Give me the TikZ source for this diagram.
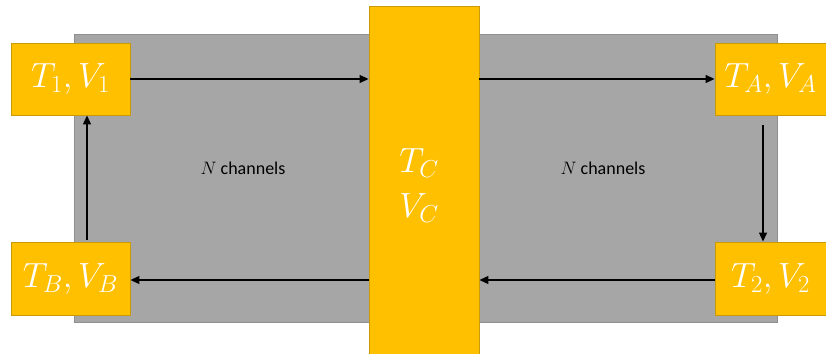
\RequirePackage{fix-cm}
\documentclass[tikz,border=0pt]{standalone}
\usepackage{fontspec}
\setmainfont{Carlito}
\usetikzlibrary{arrows.meta,calc}
\definecolor{gold}{HTML}{FFC000}
\definecolor{goldedge}{HTML}{C99A06}
\definecolor{chan}{HTML}{A6A6A6}
\definecolor{chanedge}{HTML}{8F8F8F}
\tikzset{
  valbox/.style={draw=goldedge, fill=gold, line width=0.9pt, inner sep=0pt,
    text=white, font=\fontsize{35}{38}\selectfont},
  flow/.style={-{Triangle[length=9pt,width=8pt]}, line width=1.2pt, black},
  lbl/.style={font=\fontsize{18}{21}\selectfont, text=black}
}
\begin{document}
\begin{tikzpicture}[x=1pt,y=1pt]
\useasboundingbox (0,0) rectangle (826,353);
\node[draw=chanedge, fill=chan, line width=0.9pt, minimum width=703pt, minimum height=288pt, inner sep=0pt] (grey) at (425.5,175) {};
\node[valbox, minimum width=110pt, minimum height=352pt] (bar) at (424,171) {};
\node[text=white, font=\fontsize{35}{38}\selectfont] (tc) at (419,190) {$T_C$};
\node[text=white, font=\fontsize{35}{38}\selectfont] (vc) at (419,145) {$V_C$};
\node[valbox, minimum width=119pt, minimum height=72pt] (t1) at (70.5,274) {$T_1,V_1$};
\node[valbox, minimum width=111pt, minimum height=72pt] (ta) at (770.5,274) {$T_A,V_A$};
\node[valbox, minimum width=119pt, minimum height=73pt] (tb) at (70.5,74.5) {$T_B,V_B$};
\node[valbox, minimum width=111pt, minimum height=73pt] (t2) at (770.5,74.5) {$T_2,V_2$};
\node[lbl] (n1) at (243,185) {$N$ channels};
\node[lbl] (n2) at (603,185) {$N$ channels};
\coordinate (tas) at (763,228);
\coordinate (tbn) at (87,113);
\draw[flow] (t1.east) -- (t1.east -| bar.west);
\draw[flow] (t1.east -| bar.east) -- (ta.west);
\draw[flow] (tas) -- (tas |- t2.north);
\draw[flow] ($(t2.west)+(0,-1.5)$) -- ($(t2.west -| bar.east)+(0,-1.5)$);
\draw[flow] ($(tb.east -| bar.west)+(0,-1.5)$) -- ($(tb.east)+(0,-1.5)$);
\draw[flow] (tbn) -- (tbn |- t1.south);
\end{tikzpicture}
\end{document}
